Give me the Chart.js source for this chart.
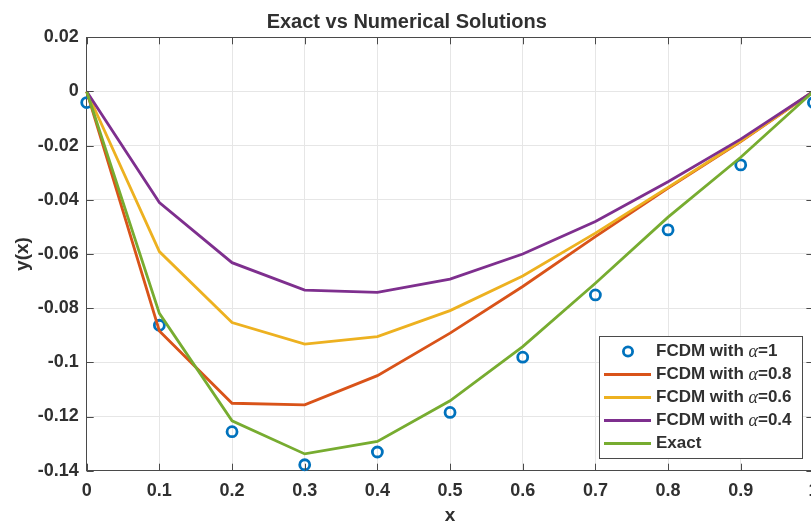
<!DOCTYPE html>
<html>
<head>
<meta charset="utf-8">
<script src="https://cdn.jsdelivr.net/npm/chart.js@4/dist/chart.umd.min.js"></script>
<style>
  html, body { margin: 0; padding: 0; background: #fff; overflow: hidden; }
  #wrap { width: 811px; height: 527px; overflow: hidden; }
  canvas { display: block; }
</style>
</head>
<body>
<div id="wrap"><canvas id="solutionChart" width="840" height="527"></canvas></div>
<script>
// values
const xValues = [0, 0.1, 0.2, 0.3, 0.4, 0.5, 0.6, 0.7, 0.8, 0.9, 1];
const fcdmAlpha1 = [-0.0041, -0.0863, -0.1256, -0.1378, -0.1331, -0.1185, -0.0981, -0.0751, -0.0511, -0.0271, -0.0041];
const fcdmAlpha08 = [0, -0.0884, -0.1151, -0.1157, -0.1049, -0.0892, -0.0720, -0.0536, -0.0357, -0.0185, 0];
const fcdmAlpha06 = [0, -0.0591, -0.0853, -0.0933, -0.0905, -0.0809, -0.0681, -0.0523, -0.0354, -0.0183, 0];
const fcdmAlpha04 = [0, -0.0410, -0.0632, -0.0733, -0.0742, -0.0693, -0.0600, -0.0480, -0.0333, -0.0176, 0];
const exactValues = [0, -0.0819, -0.1216, -0.1338, -0.1292, -0.1142, -0.0942, -0.0708, -0.0464, -0.0243, 0];

const seriesLabels = ["FCDM with α=1", "FCDM with α=0.8", "FCDM with α=0.6", "FCDM with α=0.4", "Exact"];
const seriesColors = ["#0072BD", "#D95319", "#EDB120", "#7E2F8E", "#77AC30"];

const chartTitle = "Exact vs Numerical Solutions";
const xLabel = "x";
const yLabel = "y(x)";

const textColor = "#303030";
const axisColor = "#4a4a4a";
const gridColor = "#e6e6e6";
const sansFont = "'Liberation Sans', Arial, Helvetica, sans-serif";
const serifFont = "'Liberation Serif', 'Times New Roman', serif";

function toPoints(values) {
  return xValues.map((x, i) => ({ x: x, y: values[i] }));
}

function formatTick(value) {
  return String(Number(value.toFixed(2)));
}

function lineDataset(i, values, order) {
  return {
    label: seriesLabels[i],
    data: toPoints(values),
    showLine: true,
    borderColor: seriesColors[i],
    backgroundColor: seriesColors[i],
    borderWidth: 2.8,
    pointRadius: 0,
    tension: 0,
    clip: false,
    order: order,
  };
}

// box top/right edges, inward tick marks and the legend, matlab style
const matlabAxesPlugin = {
  id: "matlabAxes",
  afterDatasetsDraw(chart) {
    const { ctx, chartArea: a, scales } = chart;
    const tickLen = 7;
    ctx.save();
    ctx.strokeStyle = axisColor;
    ctx.lineWidth = 1;
    ctx.beginPath();
    ctx.moveTo(a.left, Math.round(a.top) + 0.5);
    ctx.lineTo(a.right, Math.round(a.top) + 0.5);
    ctx.moveTo(Math.round(a.right) - 0.5, a.top);
    ctx.lineTo(Math.round(a.right) - 0.5, a.bottom);
    scales.x.ticks.forEach((t) => {
      const px = Math.round(scales.x.getPixelForValue(t.value)) + 0.5;
      ctx.moveTo(px, a.bottom);
      ctx.lineTo(px, a.bottom - tickLen);
      ctx.moveTo(px, a.top);
      ctx.lineTo(px, a.top + tickLen);
    });
    scales.y.ticks.forEach((t) => {
      const py = Math.round(scales.y.getPixelForValue(t.value)) + 0.5;
      ctx.moveTo(a.left, py);
      ctx.lineTo(a.left + tickLen, py);
      ctx.moveTo(a.right, py);
      ctx.lineTo(a.right - tickLen, py);
    });
    ctx.stroke();
    ctx.restore();
  },
  afterDraw(chart) {
    const { ctx } = chart;
    const boxX = 599.5, boxY = 336.5, boxW = 203, boxH = 122;
    const rowY0 = 351.5, rowStep = 23;
    ctx.save();
    ctx.fillStyle = "#ffffff";
    ctx.fillRect(boxX, boxY, boxW, boxH);
    ctx.strokeStyle = axisColor;
    ctx.lineWidth = 1;
    ctx.strokeRect(boxX, boxY, boxW, boxH);

    chart.data.datasets.forEach((ds, i) => {
      const y = rowY0 + i * rowStep;
      if (ds.showLine) {
        ctx.strokeStyle = ds.borderColor;
        ctx.lineWidth = 2.8;
        ctx.beginPath();
        ctx.moveTo(604, y);
        ctx.lineTo(651, y);
        ctx.stroke();
      } else {
        ctx.strokeStyle = ds.pointBorderColor;
        ctx.lineWidth = 2.8;
        ctx.beginPath();
        ctx.arc(628, y, 4.6, 0, Math.PI * 2);
        ctx.stroke();
      }
      // label, with the alpha set in italic serif like the tex interpreter
      const parts = ds.label.split("α");
      let x = 656;
      ctx.fillStyle = textColor;
      ctx.textBaseline = "middle";
      ctx.font = "bold 17px " + sansFont;
      ctx.fillText(parts[0], x, y);
      x += ctx.measureText(parts[0]).width;
      if (parts.length > 1) {
        ctx.font = "italic 18px " + serifFont;
        ctx.fillText("α", x, y + 1);
        x += ctx.measureText("α").width;
        ctx.font = "bold 17px " + sansFont;
        ctx.fillText(parts[1], x, y);
      }
    });
    ctx.restore();
  },
};

const ctx = document.getElementById("solutionChart").getContext("2d");

window.solutionChart = new Chart(ctx, {
  type: "scatter",
  data: {
    datasets: [
      {
        label: seriesLabels[0],
        data: toPoints(fcdmAlpha1),
        showLine: false,
        pointRadius: 5,
        pointBorderWidth: 2.8,
        pointBorderColor: seriesColors[0],
        pointBackgroundColor: "rgba(0,0,0,0)",
        clip: false,
        order: 4,
      },
      lineDataset(1, fcdmAlpha08, 3),
      lineDataset(2, fcdmAlpha06, 2),
      lineDataset(3, fcdmAlpha04, 1),
      lineDataset(4, exactValues, 0),
    ],
  },
  options: {
    responsive: false,
    animation: false,
    devicePixelRatio: 1,
    layout: { padding: { left: 0, right: 26.6, top: 0, bottom: 0 } },
    plugins: {
      legend: { display: false },
      tooltip: { enabled: false },
      title: {
        display: true,
        text: chartTitle,
        color: textColor,
        font: { family: sansFont, size: 20, weight: "bold", lineHeight: 1.2 },
        padding: { top: 10, bottom: 3.3 },
      },
    },
    scales: {
      x: {
        type: "linear",
        min: 0,
        max: 1,
        afterFit(scale) { scale.height = 56.3; },
        ticks: {
          stepSize: 0.1,
          color: textColor,
          padding: 10,
          font: { family: sansFont, size: 18, weight: "bold" },
          callback: formatTick,
        },
        grid: { color: gridColor, drawTicks: false },
        border: { display: true, color: axisColor, width: 1 },
        title: {
          display: true,
          text: xLabel,
          color: textColor,
          font: { family: sansFont, size: 19, weight: "bold", lineHeight: 1.2 },
          padding: { top: 0, bottom: 0 },
        },
      },
      y: {
        type: "linear",
        min: -0.14,
        max: 0.02,
        afterFit(scale) { scale.width = 86.7; },
        ticks: {
          stepSize: 0.02,
          color: textColor,
          padding: 8,
          font: { family: sansFont, size: 18, weight: "bold" },
          callback: formatTick,
        },
        grid: { color: gridColor, drawTicks: false },
        border: { display: true, color: axisColor, width: 1 },
        title: {
          display: true,
          text: yLabel,
          color: textColor,
          font: { family: sansFont, size: 19, weight: "bold", lineHeight: 1.2 },
          padding: { top: 11, bottom: 0 },
        },
      },
    },
  },
  plugins: [matlabAxesPlugin],
});
</script>
</body>
</html>
